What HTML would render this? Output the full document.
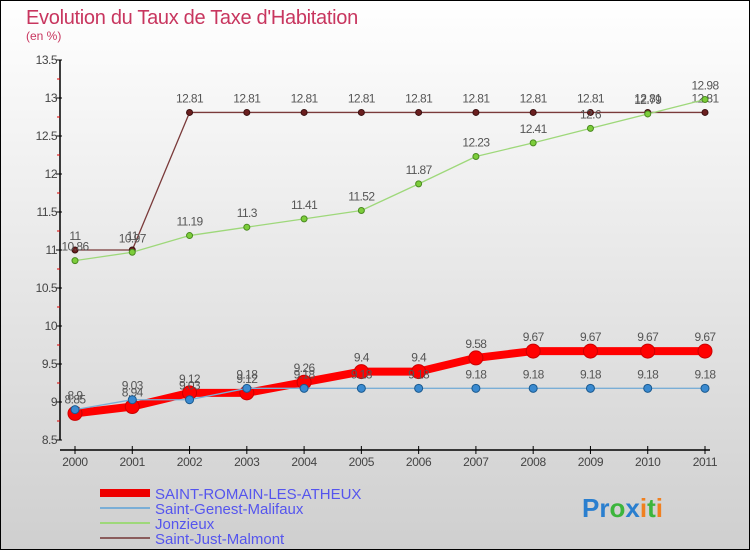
<!DOCTYPE html>
<html><head><meta charset="utf-8"><style>
html,body{margin:0;padding:0}
body{width:750px;height:550px;overflow:hidden;font-family:"Liberation Sans",sans-serif}
</style></head><body>
<svg id="c" width="750" height="550" xmlns="http://www.w3.org/2000/svg" style="display:block">
<defs><linearGradient id="bg" x1="0" y1="0" x2="0" y2="1"><stop offset="0" stop-color="#ffffff"/><stop offset="1" stop-color="#cfcfcf"/></linearGradient></defs>
<rect x="0.5" y="0.5" width="749" height="549" fill="url(#bg)" stroke="#000"/>
<text x="26" y="24" font-size="20" fill="#c8365f" letter-spacing="-0.3">Evolution du Taux de Taxe d'Habitation</text>
<text x="26" y="40" font-size="12" fill="#c8365f">(en %)</text>
<g id="plot"></g>
<g>
<rect x="100" y="489" width="50" height="8" fill="#e00"/>
<line x1="100" y1="508" x2="150" y2="508" stroke="#7aaed6" stroke-width="2"/>
<line x1="100" y1="523" x2="150" y2="523" stroke="#9ed87a" stroke-width="2"/>
<line x1="100" y1="538" x2="150" y2="538" stroke="#8a5c5c" stroke-width="2"/>
<text x="155" y="499" font-size="15" fill="#5555ee">SAINT-ROMAIN-LES-ATHEUX</text>
<text x="155" y="514" font-size="15" fill="#5555ee">Saint-Genest-Malifaux</text>
<text x="155" y="529" font-size="15" fill="#5555ee">Jonzieux</text>
<text x="155" y="544" font-size="15" fill="#5555ee">Saint-Just-Malmont</text>
</g>
<text x="582" y="517" font-size="26" font-weight="bold"><tspan fill="#2a7fcf">Pr</tspan><tspan fill="#3cb53c">o</tspan><tspan fill="#2a7fcf">x</tspan><tspan fill="#f08020">i</tspan><tspan fill="#3cb53c">t</tspan><tspan fill="#f08020">i</tspan></text>
</svg>
<script>
const years=[2000,2001,2002,2003,2004,2005,2006,2007,2008,2009,2010,2011];
const yTicks=[8.5,9,9.5,10,10.5,11,11.5,12,12.5,13,13.5];
const romain=[8.85,8.94,9.12,9.12,9.26,9.4,9.4,9.58,9.67,9.67,9.67,9.67];
const genest=[8.9,9.03,9.03,9.18,9.18,9.18,9.18,9.18,9.18,9.18,9.18,9.18];
const jonzieux=[10.86,10.97,11.19,11.3,11.41,11.52,11.87,12.23,12.41,12.6,12.79,12.98];
const just=[11,11,12.81,12.81,12.81,12.81,12.81,12.81,12.81,12.81,12.81,12.81];
const NS="http://www.w3.org/2000/svg";
const g=document.getElementById('plot');
const xS=i=>75+i*(630/11);
const yS=v=>440-(v-8.5)*76;
function mk(t,a,p){const e=document.createElementNS(NS,t);for(const k in a)e.setAttribute(k,a[k]);(p||g).appendChild(e);return e;}
let ax=mk('line',{x1:60,y1:60,x2:60,y2:440,stroke:'#000','stroke-width':1.5});


let bx=mk('line',{x1:60,y1:450,x2:710,y2:450,stroke:'#000','stroke-width':1.5});


yTicks.forEach((v,i)=>{
 mk('line',{x1:56,y1:yS(v),x2:62,y2:yS(v),stroke:'#000'});
 if(i<yTicks.length-1) mk('line',{x1:57,y1:yS(v+0.25),x2:60,y2:yS(v+0.25),stroke:'#d00'});
 const t=mk('text',{x:57,y:yS(v)+4,'font-size':12,fill:'#444','text-anchor':'end','letter-spacing':-0.5});
 t.textContent=v;
 
 
});
years.forEach((y,i)=>{
 mk('line',{x1:xS(i),y1:446,x2:xS(i),y2:454,stroke:'#000'});
 const t=mk('text',{x:xS(i),y:466,'font-size':12,fill:'#444','text-anchor':'middle','letter-spacing':-0.3});
 t.textContent=y;
 
 
});
function series(data,name,color,w,r,dot,dotStroke){
 const sg=mk('g',{});
 
 
 mk('polyline',{points:data.map((v,i)=>xS(i)+','+yS(v)).join(' '),fill:'none',stroke:color,'stroke-width':w,'stroke-linejoin':'round'},sg);
 data.forEach((v,i)=>{
  const c=mk('circle',{cx:xS(i),cy:yS(v),r:r,fill:dot,stroke:dotStroke,'stroke-width':1},sg);
  
  
  const t=mk('text',{x:xS(i),y:yS(v)-10,'font-size':12,fill:'#555','text-anchor':'middle','letter-spacing':-0.6},sg);
  t.textContent=v;
  
  
 });
}
series(just,'series-saint-just','#7a3a3a',1.3,3,'#6b1f1f','#3a1010');
series(jonzieux,'series-jonzieux','#9ed87a',1.3,3,'#7ccd3a','#4a8a20');
series(romain,'series-saint-romain','#f00',8,7,'#f00','#c00');
series(genest,'series-saint-genest','#7aaed6',1.3,4,'#3a8ad0','#1a5a90');
</script>
</body></html>
